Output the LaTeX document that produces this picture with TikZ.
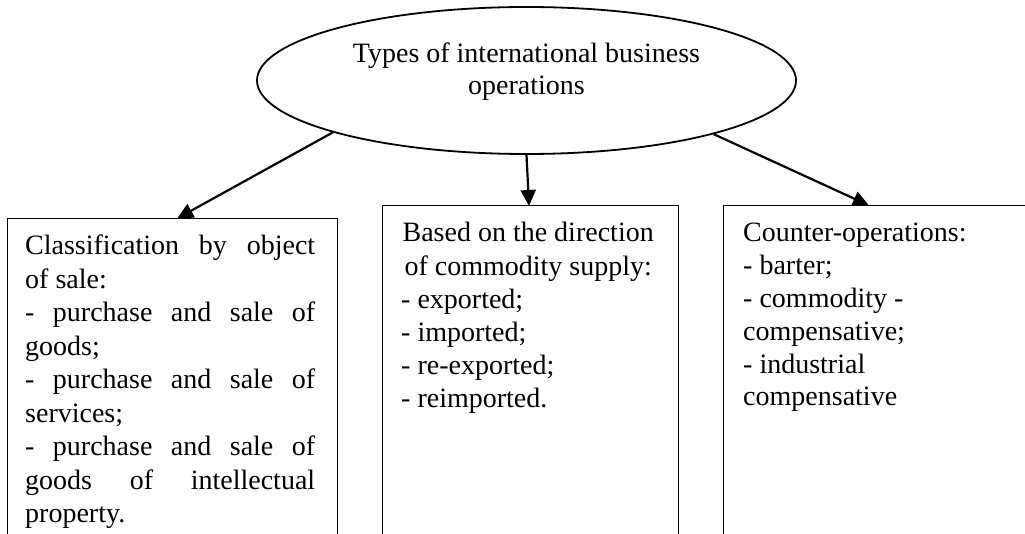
\documentclass[tikz,border=0pt]{standalone}
\usepackage{fontspec}
\setmainfont{Liberation Serif}
\usetikzlibrary{shapes.geometric,arrows.meta,calc}

\tikzset{
  opsshape/.style={ellipse, draw, line width=1.8pt, inner sep=0pt,
    minimum width=539pt, minimum height=147pt},
  catbox/.style={rectangle, draw, line width=1.4pt, inner sep=0pt,
    anchor=north west, minimum height=400pt},
  boxtext/.style={anchor=base west, inner sep=0pt},
  arr/.style={line width=2.2pt, -{Triangle[length=16pt,width=15pt]}, shorten >=-1pt}
}
\newcommand{\bodyfont}{\fontsize{28pt}{33.5pt}\selectfont}
\newcommand{\fullline}[1]{\makebox[\linewidth][s]{#1}}

\begin{document}
\begin{tikzpicture}[x=1pt,y=-1pt]
  \useasboundingbox (0,0) rectangle (1025,534);
  \clip (0,0) rectangle (1025,534);

  % root ellipse and its caption
  \node[opsshape] (ops) at (526.5,80.5) {};
  \node[anchor=base, inner sep=0pt] (opstxt) at (526.5,63)
    {\parbox[t]{420pt}{\centering\fontsize{28pt}{32pt}\selectfont
      Types of international business\\ operations}};

  % three category boxes, open towards the lower page edge
  \node[catbox, minimum width=330pt] (objbox) at (7,218) {};
  \node[catbox, minimum width=296pt] (dirbox) at (382,205) {};
  \node[catbox, minimum width=330pt] (ctrbox) at (723,205) {};

  % box contents
  \node[boxtext] (objtxt) at (25,255)
    {\parbox[t]{290pt}{\bodyfont
      \fullline{Classification by object}\\
      of sale:\\
      \fullline{- purchase and sale of}\\
      goods;\\
      \fullline{- purchase and sale of}\\
      services;\\
      \fullline{- purchase and sale of}\\
      \fullline{goods of intellectual}\\
      property.}};

  \node[boxtext] (dirtxt) at (401,242)
    {\parbox[t]{254pt}{\fontsize{28pt}{33.2pt}\selectfont
      \makebox[\linewidth][c]{Based on the direction}\\
      \makebox[\linewidth][c]{of commodity supply:}\\
      - exported;\\
      - imported;\\
      - re-exported;\\
      - reimported.}};

  \node[boxtext] (ctrtxt) at (743,242)
    {\parbox[t]{270pt}{\fontsize{28pt}{32.8pt}\selectfont
      Counter-operations:\\
      - barter;\\
      - commodity -\\
      compensative;\\
      - industrial\\
      compensative}};

  % connectors from the root to each category
  \draw[arr] (ops.195.3) -- ($(objbox.north west)+(171,0)$);
  \draw[arr] (ops.south) -- ($(dirbox.north west)+(147,0)$);
  \draw[arr] (ops.344.7) -- ($(ctrbox.north west)+(145,0)$);
\end{tikzpicture}
\end{document}
